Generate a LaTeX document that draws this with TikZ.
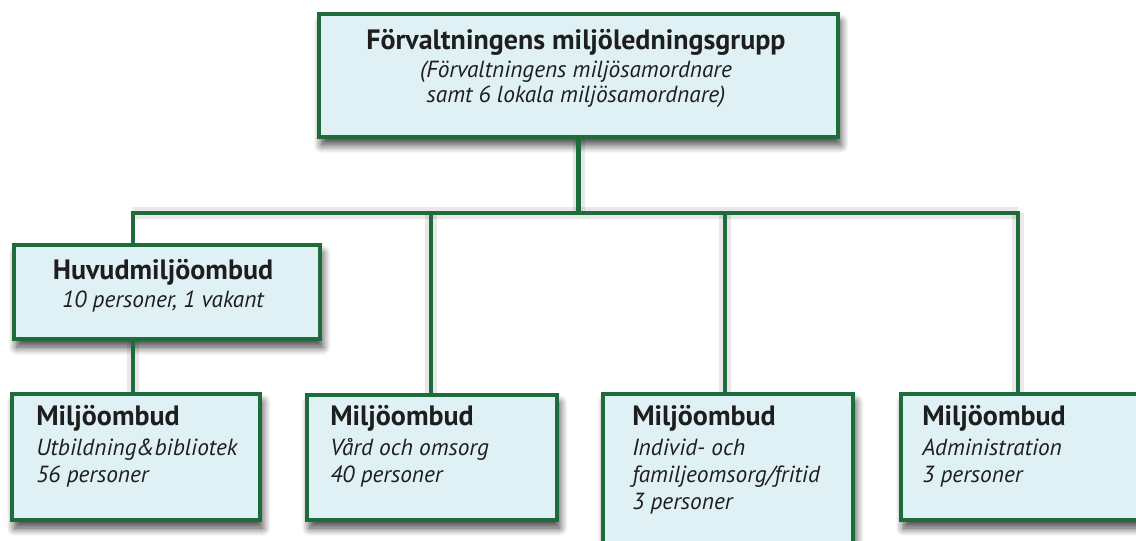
\documentclass[tikz,border=0pt]{standalone}
\usepackage{fontspec}
\setmainfont{PT Sans}
\usetikzlibrary{shadows.blur}
\definecolor{bordergreen}{HTML}{1E6B3C}
\definecolor{boxfill}{HTML}{E0F1F5}
\definecolor{inktext}{HTML}{1E1E1E}
\begin{document}
\begin{tikzpicture}[x=0.75pt,y=-0.75pt,
  box/.style={draw=bordergreen,line width=3pt,fill=boxfill,anchor=north west,inner sep=0pt,
    blur shadow={shadow xshift=2pt,shadow yshift=-6pt,shadow blur steps=10,shadow blur radius=6pt,shadow opacity=75}},
  conn/.style={draw=bordergreen,line width=3.6pt},
  connshadow/.style={draw=black,line width=9pt,opacity=0.09},
  ttl/.style={anchor=base,inner sep=0pt,text=inktext,font=\fontsize{21}{24}\selectfont\bfseries},
  sub/.style={anchor=base,inner sep=0pt,text=inktext,font=\fontsize{17.5}{18.5}\selectfont\itshape,align=center},
  btxt/.style={anchor=north west,align=left,inner sep=0pt,text=inktext,font=\fontsize{17.5}{20.3}\selectfont}]
\useasboundingbox (0,0) rectangle (1136,541);
\coordinate (barL) at (133,213);
\coordinate (barR) at (1018,213);
\coordinate (barM2) at (431,213);
\coordinate (barM3) at (725,213);
% boxes
\node[box,minimum width=519*0.75pt,minimum height=123*0.75pt] (top) at (317,12) {};
\node[box,minimum width=306*0.75pt,minimum height=94*0.75pt] (huvud) at (12,243) {};
\node[box,minimum width=248*0.75pt,minimum height=126*0.75pt] (b1) at (10,392) {};
\node[box,minimum width=250*0.75pt,minimum height=125*0.75pt] (b2) at (305,393) {};
\node[box,minimum width=250*0.75pt,minimum height=170*0.75pt] (b3) at (601,392) {};
\node[box,minimum width=240*0.75pt,minimum height=126*0.75pt] (b4) at (899,392) {};
% connector shadows
\begin{scope}[shift={(5,6)}]
\draw[connshadow] (top.south) -- (top.south |- barL);
\draw[connshadow] (barL) -- (barR);
\draw[connshadow] (barM2) -- (barM2 |- b2.north);
\draw[connshadow] (barM3) -- (barM3 |- b3.north);
\draw[connshadow] (barR) -- (barR |- b4.north);
\draw[connshadow] (huvud.south -| barL) -- (barL |- b1.north);
\end{scope}
% connectors
\draw[conn] (top.south) -- (top.south |- barL);
\draw[conn] ([xshift=-1.8pt]barL) -- ([xshift=1.8pt]barR);
\draw[conn] (barL) -- (barL |- huvud.north);
\draw[conn] (huvud.south -| barL) -- (barL |- b1.north);
\draw[conn] (barM2) -- (barM2 |- b2.north);
\draw[conn] (barM3) -- (barM3 |- b3.north);
\draw[conn] (barR) -- (barR |- b4.north);
% texts
\node[ttl] (topt) at (576,50) {Förvaltningens miljöledningsgrupp};
\node[sub] (tops1) at (576,78) {(Förvaltningens miljösamordnare};
\node[sub] (tops2) at (576,103) {samt 6 lokala miljösamordnare)};
\node[ttl] (huvt) at (163,280) {Huvudmiljöombud};
\node[sub] (huvs) at (163,308) {10 personer, 1 vakant};
\node[btxt] (b1t) at (36,405) {{\fontsize{21}{24}\selectfont\bfseries Miljöombud}\\[2pt]\itshape Utbildning\&bibliotek\\\itshape 56 personer};
\node[btxt] (b2t) at (330,405) {{\fontsize{21}{24}\selectfont\bfseries Miljöombud}\\[2pt]\itshape Vård och omsorg\\\itshape 40 personer};
\node[btxt] (b3t) at (632,405) {{\fontsize{21}{24}\selectfont\bfseries Miljöombud}\\[2pt]\itshape Individ- och\\\itshape familjeomsorg/fritid\\\itshape 3 personer};
\node[btxt] (b4t) at (922,405) {{\fontsize{21}{24}\selectfont\bfseries Miljöombud}\\[2pt]\itshape Administration\\\itshape 3 personer};
\end{tikzpicture}
\end{document}
